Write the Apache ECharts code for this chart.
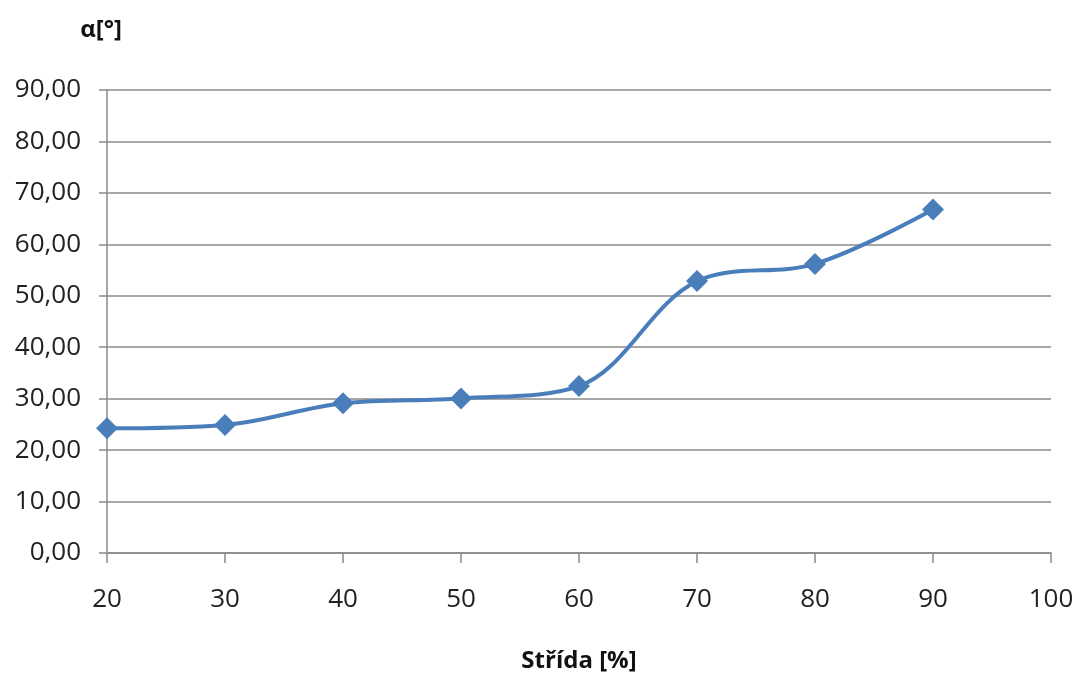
<!DOCTYPE html>
<html>
<head>
<meta charset="utf-8">
<script src="https://cdn.jsdelivr.net/npm/echarts@6/dist/echarts.min.js"></script>
<style>html,body{margin:0;padding:0;background:#fff}#c{width:1075px;height:675px}</style>
</head>
<body>
<div id="c"></div>
<script>
const stride = [20, 30, 40, 50, 60, 70, 80, 90];
const alpha = [24.25, 24.9, 29.1, 30.05, 32.45, 52.85, 56.2, 66.75];
const xName = 'Střída [%]';
const yName = 'α[°]';
const xMin = 20, xMax = 100, xStep = 10;
const yMin = 0, yMax = 90, yStep = 10;

const chart = echarts.init(document.getElementById('c'), null, {renderer: 'canvas'});
const font = '"Open Sans", "Noto Sans", sans-serif';
chart.setOption({
  animation: false,
  grid: {left: 107, right: 24, top: 90, bottom: 122, containLabel: false, outerBoundsMode: 'none'},
  xAxis: {
    type: 'value', min: xMin, max: xMax, interval: xStep,
    name: xName, nameLocation: 'middle', nameGap: 96,
    nameTextStyle: {fontFamily: font, fontSize: 24, fontWeight: 'bold', color: '#111'},
    axisLine: {lineStyle: {color: '#8a8a8a', width: 1.5}},
    axisTick: {show: true, length: 10, lineStyle: {color: '#8a8a8a', width: 1.5}},
    axisLabel: {fontFamily: font, fontSize: 26, color: '#222', margin: 34},
    splitLine: {show: false}
  },
  yAxis: {
    type: 'value', min: yMin, max: yMax, interval: yStep,
    name: yName, nameLocation: 'end', nameGap: 48,
    nameTextStyle: {fontFamily: font, fontSize: 24, fontWeight: 'bold', color: '#111', align: 'center', padding: [0, 12, 0, 0]},
    axisLine: {show: true, lineStyle: {color: '#8a8a8a', width: 1.5}},
    axisTick: {show: true, length: 8, lineStyle: {color: '#8a8a8a', width: 1.5}},
    axisLabel: {fontFamily: font, fontSize: 26, color: '#222', margin: 26,
      formatter: v => v.toFixed(2).replace('.', ',')},
    splitLine: {show: true, lineStyle: {color: '#8a8a8a', width: 1.5}}
  },
  series: [{
    type: 'line',
    data: stride.map((x, i) => [x, alpha[i]]),
    smooth: 0.35,
    symbol: 'diamond',
    symbolSize: 22,
    lineStyle: {color: '#4a7ebb', width: 4},
    itemStyle: {color: '#4a7ebb'}
  }]
});
</script>
</body>
</html>
